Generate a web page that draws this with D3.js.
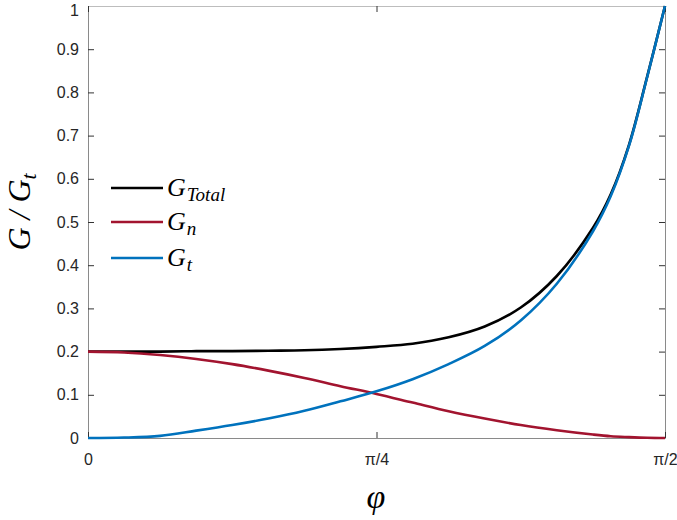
<!DOCTYPE html>
<html>
<head>
<meta charset="utf-8">
<script src="https://cdn.jsdelivr.net/npm/d3@7"></script>
<style>
  html, body { margin: 0; padding: 0; background: #fff; }
  svg { display: block; }
</style>
</head>
<body>
<svg id="chart" width="677" height="520"></svg>
<script>
// phi expressed as a fraction of pi/2
const phiFrac = [0, 0.0625, 0.125, 0.1875, 0.25, 0.3125, 0.375, 0.4375, 0.5,
  0.5625, 0.625, 0.6875, 0.75, 0.8125, 0.875, 0.906, 0.9375, 0.969, 1];
const gTotal = [0.2, 0.2, 0.2, 0.201, 0.201, 0.202, 0.203, 0.206, 0.211,
  0.218, 0.233, 0.258, 0.302, 0.375, 0.486, 0.564, 0.678, 0.836, 1.0];
const gN = [0.2, 0.198, 0.192, 0.183, 0.171, 0.156, 0.139, 0.120, 0.102,
  0.082, 0.062, 0.045, 0.030, 0.018, 0.008, 0.004, 0.002, 0.0005, 0];
const gT = [0, 0.001, 0.005, 0.017, 0.030, 0.045, 0.063, 0.085, 0.108,
  0.136, 0.171, 0.213, 0.272, 0.357, 0.478, 0.560, 0.676, 0.835, 1.0];
const yTicks = [0, 0.1, 0.2, 0.3, 0.4, 0.5, 0.6, 0.7, 0.8, 0.9, 1];
const yTickLabels = ["0", "0.1", "0.2", "0.3", "0.4", "0.5", "0.6", "0.7", "0.8", "0.9", "1"];
const xTicks = [0, 0.5, 1];
const xTickLabels = ["0", "\u03c0/4", "\u03c0/2"];
const seriesNames = [["G", "Total"], ["G", "n"], ["G", "t"]];
const seriesColors = ["#000000", "#A2142F", "#0072BD"];
const seriesData = [gTotal, gN, gT];

const svg = d3.select("#chart");
const L = 88, R = 665, T = 6, B = 438;
const x = d3.scaleLinear().domain([0, 1]).range([L, R]);
const y = d3.scaleLinear().domain([0, 1]).range([B, T]);
const axisColor = "#8a8a8a";
const textColor = "#262626";

// axes box
const gAx = svg.append("g");
const leftAxis = d3.axisLeft(y).tickValues(yTicks).tickSizeInner(-6).tickSizeOuter(0)
  .tickFormat((d, i) => yTickLabels[i]).tickPadding(9);
const rightAxis = d3.axisRight(y).tickValues(yTicks).tickSizeInner(-6).tickSizeOuter(0)
  .tickFormat("");
const bottomAxis = d3.axisBottom(x).tickValues(xTicks).tickSizeInner(-6).tickSizeOuter(0)
  .tickFormat((d, i) => xTickLabels[i]).tickPadding(16);
const topAxis = d3.axisTop(x).tickValues(xTicks).tickSizeInner(-6).tickSizeOuter(0)
  .tickFormat("");

function style(g, fs) {
  g.select(".domain").attr("stroke", axisColor).attr("stroke-width", 1);
  g.selectAll(".tick line").attr("stroke", "#333").attr("stroke-width", 1);
  g.selectAll(".tick text").attr("fill", textColor)
    .style("font-family", "'Liberation Sans', Arial, sans-serif").style("font-size", fs + "px");
}
const gLeft = gAx.append("g").attr("transform", `translate(${L},0)`).call(leftAxis).call(style, 16);
gLeft.selectAll(".tick text").filter(d => d === 1).attr("dy", "0.6em");
gAx.append("g").attr("transform", `translate(${R},0)`).call(rightAxis).call(style, 16);
gAx.append("g").attr("transform", `translate(0,${B})`).call(bottomAxis).call(style, 16);
gAx.append("g").attr("transform", `translate(0,${T})`).call(topAxis).call(style, 16)
  .select(".domain").attr("stroke", "#bdbdbd");

// lines
const line = d3.line().x((d, i) => x(phiFrac[i])).y(d => y(d)).curve(d3.curveCatmullRom.alpha(0.5));
[0, 1, 2].forEach(k => {
  svg.append("path").datum(seriesData[k])
    .attr("fill", "none").attr("stroke", seriesColors[k]).attr("stroke-width", 2.6)
    .attr("stroke-linejoin", "round").attr("d", line);
});

// legend
const serif = "'Liberation Serif', 'DejaVu Serif', serif";
const legY = [188, 222, 258];
seriesNames.forEach((nm, k) => {
  svg.append("line").attr("x1", 111).attr("x2", 163).attr("y1", legY[k]).attr("y2", legY[k])
    .attr("stroke", seriesColors[k]).attr("stroke-width", 2.6);
  const t = svg.append("text").attr("x", 167).attr("y", legY[k] + 8)
    .style("font-family", serif).style("font-style", "italic").style("font-size", "26px")
    .attr("fill", "#000");
  t.append("tspan").text(nm[0]);
  t.append("tspan").attr("dy", 5).attr("dx", 1).style("font-size", "19px").text(nm[1]);
});

// axis labels
const yl = svg.append("text").attr("transform", "translate(30,212) rotate(-90)")
  .attr("text-anchor", "middle")
  .style("font-family", serif).style("font-style", "italic").style("font-size", "32px")
  .attr("fill", "#000");
yl.append("tspan").text("G / G");
yl.append("tspan").attr("dy", 6).style("font-size", "22px").text("t");

svg.append("text").attr("x", 376).attr("y", 508).attr("text-anchor", "middle")
  .style("font-family", serif).style("font-style", "italic").style("font-size", "34px")
  .attr("fill", "#000").text("\u03c6");
</script>
</body>
</html>
